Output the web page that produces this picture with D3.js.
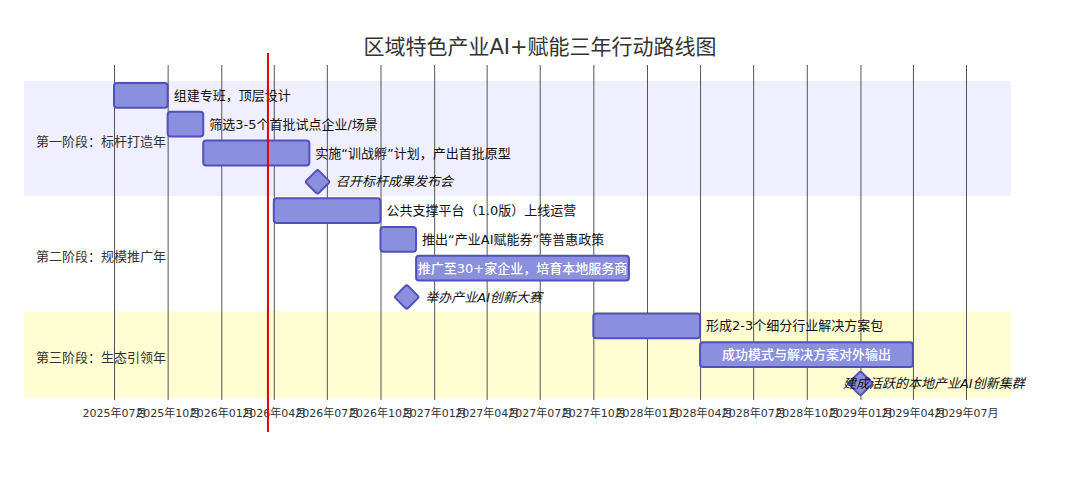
<!DOCTYPE html>
<html>
<head>
<meta charset="utf-8">
<script src="https://cdn.jsdelivr.net/npm/d3@7"></script>
<style>
  body { margin: 0; background: #fff; }
  svg text { font-family: "DejaVu Sans", "Noto Sans CJK SC", sans-serif; }
</style>
</head>
<body>
<svg id="gantt"></svg>
<script>
// data
const chartTitle = "区域特色产业AI+赋能三年行动路线图";
const sections = ["第一阶段：标杆打造年", "第二阶段：规模推广年", "第三阶段：生态引领年"];
const taskNames = [
  "组建专班，顶层设计",
  "筛选3-5个首批试点企业/场景",
  "实施“训战孵”计划，产出首批原型",
  "召开标杆成果发布会",
  "公共支撑平台（1.0版）上线运营",
  "推出“产业AI赋能券”等普惠政策",
  "推广至30+家企业，培育本地服务商",
  "举办产业AI创新大赛",
  "形成2-3个细分行业解决方案包",
  "成功模式与解决方案对外输出",
  "建成活跃的本地产业AI创新集群"
];
const taskSection = [0, 0, 0, 0, 1, 1, 1, 1, 2, 2, 2];
const taskStart = ["2025-07-01", "2025-10-01", "2025-12-01", "2026-06-15",
                   "2026-04-01", "2026-10-01", "2026-12-01", "2026-11-15",
                   "2027-10-01", "2028-04-01", "2029-01-01"];
// null end = milestone
const taskEnd = ["2025-10-01", "2025-12-01", "2026-06-01", null,
                 "2026-10-01", "2026-12-01", "2027-12-01", null,
                 "2028-04-01", "2029-04-01", null];
const axisRange = ["2025-07-01", "2029-07-01"];
const todayDate = "2026-03-22";

const W = 1080, H = 485;
const rowTop = 81, rowStep = 28.8;
const bgLeft = 24, bgRight = 1011;
const gridTop = 65, gridBottom = 400;

const parse = d3.utcParse("%Y-%m-%d");

const svg = d3.select("#gantt").attr("width", W).attr("height", H);

const x = d3.scaleUtc()
  .domain(axisRange.map(parse))
  .range([114, 966]);

const tasks = taskNames.map((name, i) => ({
  name,
  section: taskSection[i],
  start: parse(taskStart[i]),
  end: taskEnd[i] ? parse(taskEnd[i]) : null,
  row: i
}));

// section backgrounds
const sectionFill = ["rgba(102,102,255,0.1)", "#ffffff", "rgba(255,244,0,0.18)"];
sections.forEach((s, si) => {
  const rows = tasks.filter(t => t.section === si).map(t => t.row);
  const y0 = rowTop + d3.min(rows) * rowStep;
  const y1 = rowTop + (d3.max(rows) + 1) * rowStep;
  svg.append("rect")
    .attr("x", bgLeft).attr("y", y0)
    .attr("width", bgRight - bgLeft).attr("height", y1 - y0)
    .attr("fill", sectionFill[si]);
});

// grid + axis
const grid = svg.append("g")
  .attr("transform", `translate(0,${gridBottom})`)
  .call(d3.axisBottom(x)
    .ticks(d3.utcMonth.every(3))
    .tickFormat(d3.utcFormat("%Y年%m月"))
    .tickSize(-(gridBottom - gridTop))
    .tickPadding(9));
grid.select(".domain").remove();
grid.selectAll(".tick line").attr("stroke", "#555").attr("stroke-width", 1);
grid.selectAll(".tick text")
  .attr("fill", "#333")
  .style("font-size", "11px");

// bars / milestones
const barFill = "#8a90dd", barStroke = "#534fbc";
const barH = rowStep - 4;
const layer = svg.append("g");

tasks.forEach(t => {
  const cy = rowTop + t.row * rowStep + rowStep / 2;
  let x0, x1;
  if (t.end) {
    x0 = x(t.start); x1 = x(t.end);
    layer.append("rect")
      .attr("x", x0).attr("y", cy - barH / 2)
      .attr("width", x1 - x0).attr("height", barH)
      .attr("rx", 3).attr("ry", 3)
      .attr("fill", barFill).attr("stroke", barStroke).attr("stroke-width", 2);
  } else {
    const cx = x(t.start);
    const side = 17.5;
    x0 = cx - 12.5; x1 = cx + 12.5;
    layer.append("rect")
      .attr("x", cx - side / 2).attr("y", cy - side / 2)
      .attr("width", side).attr("height", side)
      .attr("rx", 2).attr("ry", 2)
      .attr("transform", `rotate(45,${cx},${cy})`)
      .attr("fill", barFill).attr("stroke", barStroke).attr("stroke-width", 2);
  }

  const label = layer.append("text")
    .attr("y", cy)
    .attr("dominant-baseline", "central")
    .style("font-size", "13px")
    .style("font-style", t.end ? "normal" : "italic")
    .text(t.name);
  const tw = label.node().getComputedTextLength();

  if (t.end && tw < x1 - x0) {
    // fits inside the bar
    label.attr("x", (x0 + x1) / 2).attr("text-anchor", "middle")
      .attr("fill", "#fff").style("font-weight", "500");
  } else if (x1 + 6 + tw + 112 > W) {
    label.attr("x", x0 - 5).attr("fill", "#111");
  } else {
    label.attr("x", x1 + 6).attr("fill", "#111");
  }
});

// section labels
sections.forEach((s, si) => {
  const rows = tasks.filter(t => t.section === si).map(t => t.row);
  const mid = rowTop + (d3.min(rows) + d3.max(rows) + 1) / 2 * rowStep;
  svg.append("text")
    .attr("x", 36).attr("y", mid + 3)
    .attr("dominant-baseline", "central")
    .attr("fill", "#333")
    .style("font-size", "13px")
    .text(s);
});

// today line
svg.append("line")
  .attr("x1", x(parse(todayDate))).attr("x2", x(parse(todayDate)))
  .attr("y1", 53).attr("y2", 432)
  .attr("stroke", "#e60000").attr("stroke-width", 2);

// title
svg.append("text")
  .attr("x", W / 2).attr("y", 47)
  .attr("text-anchor", "middle")
  .attr("dominant-baseline", "central")
  .attr("fill", "#333")
  .style("font-size", "21px")
  .text(chartTitle);
</script>
</body>
</html>
